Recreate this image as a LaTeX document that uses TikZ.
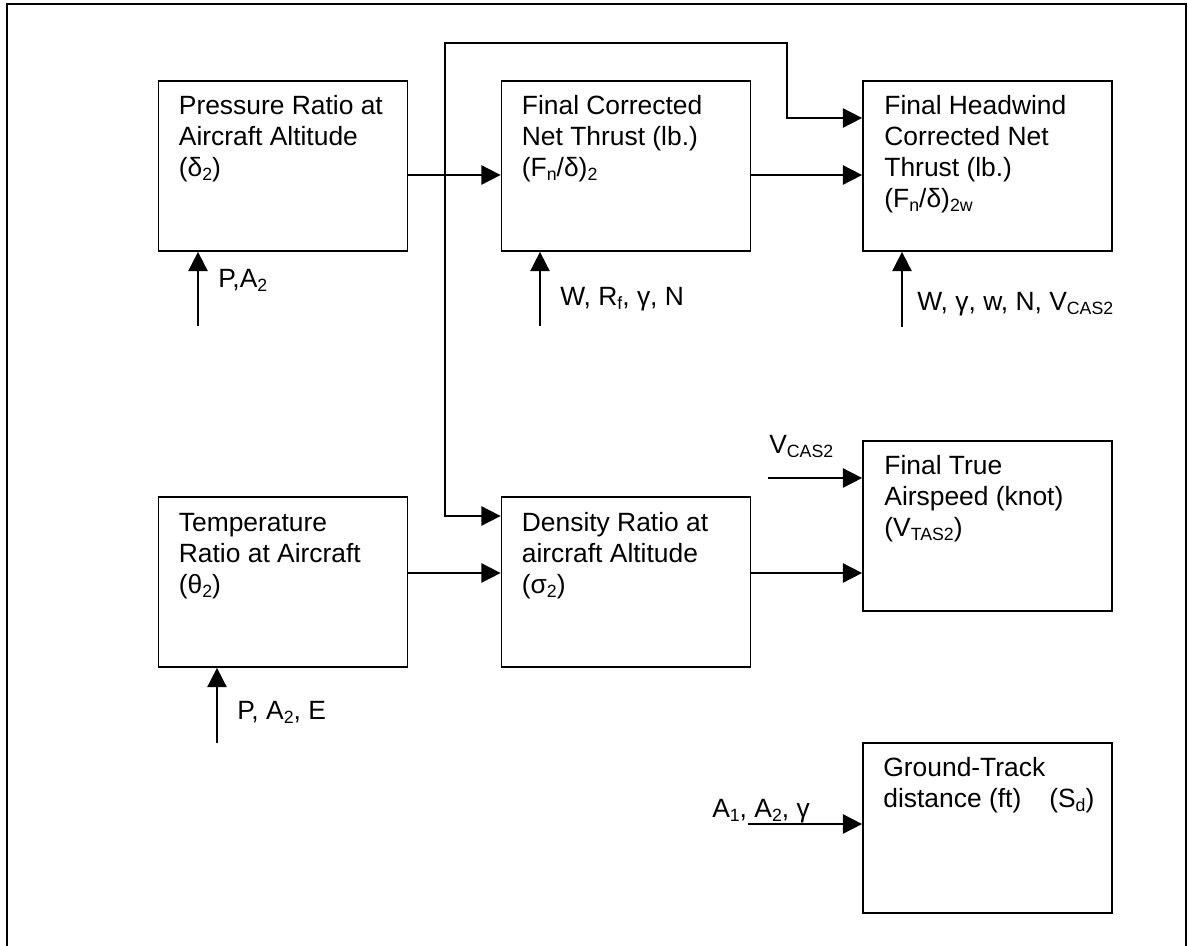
\documentclass[tikz,border=0pt]{standalone}
\usepackage{fontspec}
\setmainfont{Liberation Sans}
\usetikzlibrary{arrows.meta}
\newcommand\sbs[1]{\raisebox{-3.5pt}{\fontsize{13.3pt}{13.3pt}\selectfont #1}}
\newcommand\ml[1]{\begin{tabular}[t]{@{}l@{}}#1\end{tabular}}
\begin{document}
\begin{tikzpicture}[x=0.75pt,y=-0.75pt,
  font=\fontsize{19.8pt}{23.25pt}\selectfont,
  box/.style={draw,line width=1.3pt,minimum width=186.75pt,minimum height=127.5pt,inner sep=0pt},
  txt/.style={anchor=base west,inner sep=0pt},
  lbl/.style={anchor=base west,inner sep=0pt},
  arr/.style={line width=1.3pt,-{Triangle[length=14.5pt,width=14.5pt]}},
  conn/.style={line width=1.3pt}]
\clip (0,0) rectangle (1189,946);
\draw[conn] (7,970) -- (7,4) -- (1186,4) -- (1186,970);
% boxes
\node[box] (p) at (283,166) {};
\node[box] (f) at (626,166) {};
\node[box] (h) at (987.5,166) {};
\node[box] (t) at (283,582) {};
\node[box] (d) at (626,582) {};
\node[box] (v) at (987.5,526) {};
\node[box] (g) at (987.5,828) {};
% box texts
\node[txt] (pt) at ([shift={(21,34)}]p.north west) {\ml{Pressure Ratio at\\Aircraft Altitude\\(δ\sbs{2})}};
\node[txt] (ft) at ([shift={(21,34)}]f.north west) {\ml{Final Corrected\\Net Thrust (lb.)\\(F\sbs{n}/δ)\sbs{2}}};
\node[txt] (ht) at ([shift={(22,34)}]h.north west) {\ml{Final Headwind\\Corrected Net\\Thrust (lb.)\\(F\sbs{n}/δ)\sbs{2w}}};
\node[txt] (tt) at ([shift={(21,35)}]t.north west) {\ml{Temperature\\Ratio at Aircraft\\(θ\sbs{2})}};
\node[txt] (dt) at ([shift={(21,35)}]d.north west) {\ml{Density Ratio at\\aircraft Altitude\\(σ\sbs{2})}};
\node[txt] (vt) at ([shift={(22,34)}]v.north west) {\ml{Final True\\Airspeed (knot)\\(V\sbs{TAS2})}};
\node[txt] (gt) at ([shift={(21,34)}]g.north west) {\ml{Ground-Track\\distance (ft)\hspace{21pt}(S\sbs{d})}};
% free ends
\coordinate (j) at (445,175);
\coordinate (tr) at (787,43);
\coordinate (pin) at (198,326);
\coordinate (fin) at (540,326);
\coordinate (hin) at (902,327);
\coordinate (tin) at (217,743);
\coordinate (vin) at (768,478);
\coordinate (gin) at (748,824);
% connectors
\draw[arr] (p.east |- j) -- (f.west |- j);
\draw[arr] (f.east |- j) -- (h.west |- j);
\draw[arr] (j) |- (tr) |- (h.west |- 0,118);
\draw[arr] (j) |- (d.west |- 0,516);
\draw[arr] (t.east |- 0,573) -- (d.west |- 0,573);
\draw[arr] (d.east |- 0,573) -- (v.west |- 0,573);
\draw[arr] (vin) -- (v.west |- vin);
\draw[arr] (gin) -- (g.west |- gin);
\draw[arr] (pin) -- (p.south -| pin);
\draw[arr] (fin) -- (f.south -| fin);
\draw[arr] (hin) -- (h.south -| hin);
\draw[arr] (tin) -- (t.south -| tin);
% labels
\node[lbl] (pl) at (218,287) {P,A\sbs{2}};
\node[lbl] (fl) at (560,305) {W, R\sbs{f}, γ, N};
\node[lbl] (hl) at (917,310) {W, γ, w, N, V\sbs{CAS2}};
\node[lbl] (tl) at (237,719) {P, A\sbs{2}, E};
\node[lbl] (vl) at (769,453) {V\sbs{CAS2}};
\node[lbl] (gl) at (712,817) {A\sbs{1}, A\sbs{2}, γ};
\end{tikzpicture}
\end{document}
